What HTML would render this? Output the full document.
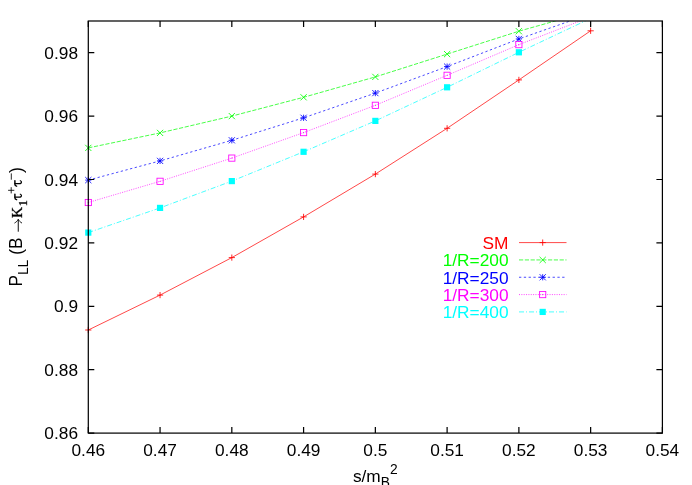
<!DOCTYPE html>
<html><head><meta charset="utf-8"><title>plot</title>
<style>
html,body{margin:0;padding:0;background:#fff;}
body{width:692px;height:485px;overflow:hidden;}
svg{display:block;will-change:transform;}
text{font-family:"Liberation Sans",sans-serif;font-size:17.3px;fill:#000;}
.ser{font-family:"Liberation Serif",serif;}
</style></head><body>
<svg width="692" height="485" viewBox="0 0 692 485">
<rect width="692" height="485" fill="#fff"/>
<defs><clipPath id="c"><rect x="88.30" y="21.00" width="574.10" height="412.10"/></clipPath></defs>

<g clip-path="url(#c)"><polyline points="88.30,330.00 160.06,295.10 231.82,257.60 303.59,216.90 375.35,174.10 447.11,128.30 518.88,79.90 590.64,30.80" fill="none" stroke="#ff0000" stroke-width="0.72"/></g>
<path d="M85.20 330.00H91.40M88.30 326.90V333.10" stroke="#ff0000" stroke-width="0.85" fill="none"/>
<path d="M156.96 295.10H163.16M160.06 292.00V298.20" stroke="#ff0000" stroke-width="0.85" fill="none"/>
<path d="M228.72 257.60H234.92M231.82 254.50V260.70" stroke="#ff0000" stroke-width="0.85" fill="none"/>
<path d="M300.49 216.90H306.69M303.59 213.80V220.00" stroke="#ff0000" stroke-width="0.85" fill="none"/>
<path d="M372.25 174.10H378.45M375.35 171.00V177.20" stroke="#ff0000" stroke-width="0.85" fill="none"/>
<path d="M444.01 128.30H450.21M447.11 125.20V131.40" stroke="#ff0000" stroke-width="0.85" fill="none"/>
<path d="M515.77 79.90H521.98M518.88 76.80V83.00" stroke="#ff0000" stroke-width="0.85" fill="none"/>
<path d="M587.54 30.80H593.74M590.64 27.70V33.90" stroke="#ff0000" stroke-width="0.85" fill="none"/>
<g clip-path="url(#c)"><polyline points="88.30,147.90 160.06,132.90 231.82,116.10 303.59,97.30 375.35,76.90 447.11,54.10 518.88,31.20 590.64,11.00" fill="none" stroke="#00ff00" stroke-width="0.72" stroke-dasharray="4.2 1.6"/></g>
<path d="M85.20 144.80L91.40 151.00M85.20 151.00L91.40 144.80" stroke="#00ff00" stroke-width="0.85" fill="none"/>
<path d="M156.96 129.80L163.16 136.00M156.96 136.00L163.16 129.80" stroke="#00ff00" stroke-width="0.85" fill="none"/>
<path d="M228.72 113.00L234.92 119.20M228.72 119.20L234.92 113.00" stroke="#00ff00" stroke-width="0.85" fill="none"/>
<path d="M300.49 94.20L306.69 100.40M300.49 100.40L306.69 94.20" stroke="#00ff00" stroke-width="0.85" fill="none"/>
<path d="M372.25 73.80L378.45 80.00M372.25 80.00L378.45 73.80" stroke="#00ff00" stroke-width="0.85" fill="none"/>
<path d="M444.01 51.00L450.21 57.20M444.01 57.20L450.21 51.00" stroke="#00ff00" stroke-width="0.85" fill="none"/>
<path d="M515.77 28.10L521.98 34.30M515.77 34.30L521.98 28.10" stroke="#00ff00" stroke-width="0.85" fill="none"/>
<g clip-path="url(#c)"><polyline points="88.30,180.10 160.06,160.90 231.82,140.30 303.59,117.80 375.35,93.10 447.11,66.60 518.88,38.95 590.64,13.80" fill="none" stroke="#0000ff" stroke-width="0.72" stroke-dasharray="2.3 2.5"/></g>
<path d="M85.20 180.10H91.40M88.30 177.00V183.20" stroke="#0000ff" stroke-width="0.85" fill="none"/><path d="M85.20 177.00L91.40 183.20M85.20 183.20L91.40 177.00" stroke="#0000ff" stroke-width="0.85" fill="none"/>
<path d="M156.96 160.90H163.16M160.06 157.80V164.00" stroke="#0000ff" stroke-width="0.85" fill="none"/><path d="M156.96 157.80L163.16 164.00M156.96 164.00L163.16 157.80" stroke="#0000ff" stroke-width="0.85" fill="none"/>
<path d="M228.72 140.30H234.92M231.82 137.20V143.40" stroke="#0000ff" stroke-width="0.85" fill="none"/><path d="M228.72 137.20L234.92 143.40M228.72 143.40L234.92 137.20" stroke="#0000ff" stroke-width="0.85" fill="none"/>
<path d="M300.49 117.80H306.69M303.59 114.70V120.90" stroke="#0000ff" stroke-width="0.85" fill="none"/><path d="M300.49 114.70L306.69 120.90M300.49 120.90L306.69 114.70" stroke="#0000ff" stroke-width="0.85" fill="none"/>
<path d="M372.25 93.10H378.45M375.35 90.00V96.20" stroke="#0000ff" stroke-width="0.85" fill="none"/><path d="M372.25 90.00L378.45 96.20M372.25 96.20L378.45 90.00" stroke="#0000ff" stroke-width="0.85" fill="none"/>
<path d="M444.01 66.60H450.21M447.11 63.50V69.70" stroke="#0000ff" stroke-width="0.85" fill="none"/><path d="M444.01 63.50L450.21 69.70M444.01 69.70L450.21 63.50" stroke="#0000ff" stroke-width="0.85" fill="none"/>
<path d="M515.77 38.95H521.98M518.88 35.85V42.05" stroke="#0000ff" stroke-width="0.85" fill="none"/><path d="M515.77 35.85L521.98 42.05M515.77 42.05L521.98 35.85" stroke="#0000ff" stroke-width="0.85" fill="none"/>
<g clip-path="url(#c)"><polyline points="88.30,202.50 160.06,181.30 231.82,158.10 303.59,132.60 375.35,105.30 447.11,75.30 518.88,44.65 590.64,16.90" fill="none" stroke="#ff00ff" stroke-width="0.72" stroke-dasharray="1 1.35"/></g>
<rect x="85.20" y="199.40" width="6.2" height="6.2" stroke="#ff00ff" stroke-width="0.85" fill="none"/><circle cx="88.30" cy="202.50" r="0.6" fill="#ff00ff"/>
<rect x="156.96" y="178.20" width="6.2" height="6.2" stroke="#ff00ff" stroke-width="0.85" fill="none"/><circle cx="160.06" cy="181.30" r="0.6" fill="#ff00ff"/>
<rect x="228.72" y="155.00" width="6.2" height="6.2" stroke="#ff00ff" stroke-width="0.85" fill="none"/><circle cx="231.82" cy="158.10" r="0.6" fill="#ff00ff"/>
<rect x="300.49" y="129.50" width="6.2" height="6.2" stroke="#ff00ff" stroke-width="0.85" fill="none"/><circle cx="303.59" cy="132.60" r="0.6" fill="#ff00ff"/>
<rect x="372.25" y="102.20" width="6.2" height="6.2" stroke="#ff00ff" stroke-width="0.85" fill="none"/><circle cx="375.35" cy="105.30" r="0.6" fill="#ff00ff"/>
<rect x="444.01" y="72.20" width="6.2" height="6.2" stroke="#ff00ff" stroke-width="0.85" fill="none"/><circle cx="447.11" cy="75.30" r="0.6" fill="#ff00ff"/>
<rect x="515.77" y="41.55" width="6.2" height="6.2" stroke="#ff00ff" stroke-width="0.85" fill="none"/><circle cx="518.88" cy="44.65" r="0.6" fill="#ff00ff"/>
<g clip-path="url(#c)"><polyline points="88.30,232.60 160.06,207.90 231.82,181.10 303.59,151.80 375.35,120.90 447.11,87.30 518.88,52.30 590.64,18.40" fill="none" stroke="#00ffff" stroke-width="0.72" stroke-dasharray="5 2 1 2"/></g>
<rect x="85.20" y="229.50" width="6.2" height="6.2" fill="#00ffff"/>
<rect x="156.96" y="204.80" width="6.2" height="6.2" fill="#00ffff"/>
<rect x="228.72" y="178.00" width="6.2" height="6.2" fill="#00ffff"/>
<rect x="300.49" y="148.70" width="6.2" height="6.2" fill="#00ffff"/>
<rect x="372.25" y="117.80" width="6.2" height="6.2" fill="#00ffff"/>
<rect x="444.01" y="84.20" width="6.2" height="6.2" fill="#00ffff"/>
<rect x="515.77" y="49.20" width="6.2" height="6.2" fill="#00ffff"/>
<rect x="88.3" y="21.0" width="574.10" height="412.10" fill="none" stroke="#000" stroke-width="1.22"/>
<path d="M88.30 433.1v-6M88.30 21.0v6M160.06 433.1v-6M160.06 21.0v6M231.82 433.1v-6M231.82 21.0v6M303.59 433.1v-6M303.59 21.0v6M375.35 433.1v-6M375.35 21.0v6M447.11 433.1v-6M447.11 21.0v6M518.88 433.1v-6M518.88 21.0v6M590.64 433.1v-6M590.64 21.0v6M662.40 433.1v-6M662.40 21.0v6M88.3 433.10h6M662.4 433.10h-6M88.3 369.70h6M662.4 369.70h-6M88.3 306.30h6M662.4 306.30h-6M88.3 242.90h6M662.4 242.90h-6M88.3 179.50h6M662.4 179.50h-6M88.3 116.10h6M662.4 116.10h-6M88.3 52.70h6M662.4 52.70h-6" stroke="#000" stroke-width="1.22" fill="none"/>
<text x="88.30" y="456.15" text-anchor="middle">0.46</text>
<text x="160.06" y="456.15" text-anchor="middle">0.47</text>
<text x="231.82" y="456.15" text-anchor="middle">0.48</text>
<text x="303.59" y="456.15" text-anchor="middle">0.49</text>
<text x="375.35" y="456.15" text-anchor="middle">0.5</text>
<text x="447.11" y="456.15" text-anchor="middle">0.51</text>
<text x="518.88" y="456.15" text-anchor="middle">0.52</text>
<text x="590.64" y="456.15" text-anchor="middle">0.53</text>
<text x="662.40" y="456.15" text-anchor="middle">0.54</text>
<text x="78.00" y="439.20" text-anchor="end">0.86</text>
<text x="78.00" y="375.80" text-anchor="end">0.88</text>
<text x="78.00" y="312.40" text-anchor="end">0.9</text>
<text x="78.00" y="249.00" text-anchor="end">0.92</text>
<text x="78.00" y="185.60" text-anchor="end">0.94</text>
<text x="78.00" y="122.20" text-anchor="end">0.96</text>
<text x="78.00" y="58.80" text-anchor="end">0.98</text>
<text x="508.50" y="248.90" text-anchor="end" style="fill:#ff0000">SM</text>
<path d="M519 242.60H566.5" stroke="#ff0000" stroke-width="0.72" fill="none"/>
<path d="M539.60 242.60H545.80M542.70 239.50V245.70" stroke="#ff0000" stroke-width="0.85" fill="none"/>
<text x="508.50" y="266.23" text-anchor="end" style="fill:#00ff00">1/R=200</text>
<path d="M519 259.93H566.5" stroke="#00ff00" stroke-width="0.72" fill="none" stroke-dasharray="4.2 1.6"/>
<path d="M539.60 256.83L545.80 263.03M539.60 263.03L545.80 256.83" stroke="#00ff00" stroke-width="0.85" fill="none"/>
<text x="508.50" y="283.56" text-anchor="end" style="fill:#0000ff">1/R=250</text>
<path d="M519 277.26H566.5" stroke="#0000ff" stroke-width="0.72" fill="none" stroke-dasharray="2.3 2.5"/>
<path d="M539.60 277.26H545.80M542.70 274.16V280.36" stroke="#0000ff" stroke-width="0.85" fill="none"/><path d="M539.60 274.16L545.80 280.36M539.60 280.36L545.80 274.16" stroke="#0000ff" stroke-width="0.85" fill="none"/>
<text x="508.50" y="300.89" text-anchor="end" style="fill:#ff00ff">1/R=300</text>
<path d="M519 294.59H566.5" stroke="#ff00ff" stroke-width="0.72" fill="none" stroke-dasharray="1 1.35"/>
<rect x="539.60" y="291.49" width="6.2" height="6.2" stroke="#ff00ff" stroke-width="0.85" fill="none"/><circle cx="542.70" cy="294.59" r="0.6" fill="#ff00ff"/>
<text x="508.50" y="318.22" text-anchor="end" style="fill:#00ffff">1/R=400</text>
<path d="M519 311.92H566.5" stroke="#00ffff" stroke-width="0.72" fill="none" stroke-dasharray="5 2 1 2"/>
<rect x="539.60" y="308.82" width="6.2" height="6.2" fill="#00ffff"/>
<text x="352.9" y="481.9">s/m<tspan font-size="13.8" dy="5.5">B</tspan><tspan font-size="13.8" dy="-13.9">2</tspan></text>
<g transform="translate(21.8,286) rotate(-90)"><text transform="translate(-0.6,0) scale(1,1.05)">P</text><text transform="translate(10.93,6.1) scale(1,1.05)" style="font-size:13.8px">LL</text><text transform="translate(31.2,0) scale(1,1.05)">(B</text><path d="M54.3 -3.55H66.2" stroke="#000" stroke-width="0.95" fill="none"/><path d="M62.9 -7.3C64.0 -5.5 65.2 -4.2 66.8 -3.55C65.2 -2.9 64.0 -1.6 62.9 0.2" stroke="#000" stroke-width="0.9" fill="none"/><text class="ser" x="68.0" y="0" style="font-size:15.4px;stroke:#000;stroke-width:0.3px">Κ</text><text class="ser" x="79.75" y="5.1" style="font-size:12.3px;stroke:#000;stroke-width:0.3px">1</text><g transform="translate(86.0,0)" fill="none" stroke="#000" stroke-linecap="round" stroke-linejoin="round"><path d="M0.35 -5.2C0.5 -6.3 1.1 -6.9 2.3 -6.9H5.9" stroke-width="1.45"/><path d="M2.9 -6.9V-2.4C2.9 -0.9 3.5 -0.35 4.4 -0.35C5.1 -0.35 5.6 -0.8 5.8 -1.5" stroke-width="1.15"/></g><path d="M92.6 -10.6H98.8M95.7 -13.7V-7.5" stroke="#000" stroke-width="0.85" fill="none"/><g transform="translate(99.5,0)" fill="none" stroke="#000" stroke-linecap="round" stroke-linejoin="round"><path d="M0.35 -5.2C0.5 -6.3 1.1 -6.9 2.3 -6.9H5.9" stroke-width="1.45"/><path d="M2.9 -6.9V-2.4C2.9 -0.9 3.5 -0.35 4.4 -0.35C5.1 -0.35 5.6 -0.8 5.8 -1.5" stroke-width="1.15"/></g><path d="M106.3 -10.5H112.6" stroke="#000" stroke-width="0.85" fill="none"/><text transform="translate(112.9,0) scale(1,1.05)">)</text></g>
</svg></body></html>
